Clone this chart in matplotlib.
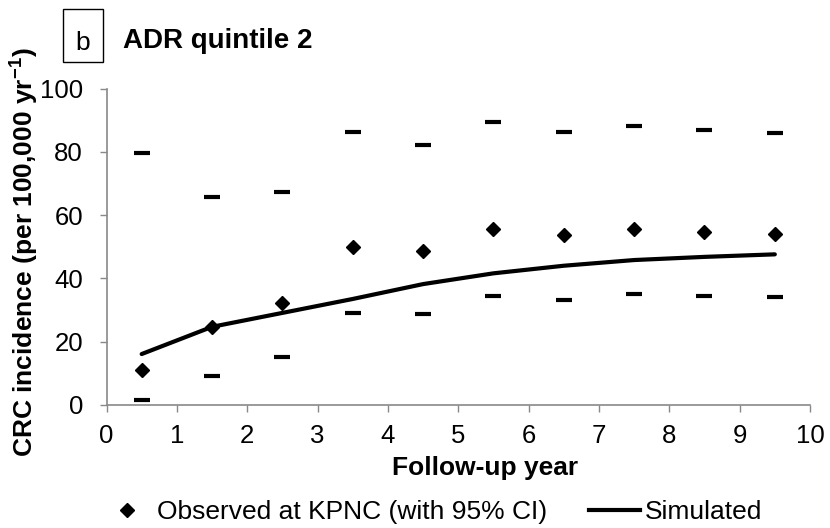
import matplotlib
matplotlib.use("Agg")
import matplotlib.pyplot as plt
from matplotlib.lines import Line2D
from matplotlib.patches import Rectangle

plt.rcParams['font.family'] = ['Liberation Sans', 'DejaVu Sans']
plt.rcParams['mathtext.fontset'] = 'custom'
plt.rcParams['mathtext.rm'] = 'Liberation Sans'
plt.rcParams['mathtext.bf'] = 'Liberation Sans:bold'

years = [0.5, 1.5, 2.5, 3.5, 4.5, 5.5, 6.5, 7.5, 8.5, 9.5]
observed = [11.0, 24.7, 32.1, 50.0, 48.5, 55.5, 53.7, 55.5, 54.7, 54.1]
upper_ci = [79.5, 65.8, 67.2, 86.1, 82.0, 89.4, 86.2, 88.0, 86.8, 86.0]
lower_ci = [1.6, 9.3, 15.3, 29.0, 28.8, 34.5, 33.3, 35.0, 34.4, 34.1]
simulated = [16.1, 24.7, 29.1, 33.5, 38.2, 41.6, 44.0, 45.8, 46.8, 47.6]
xticks = list(range(0, 11))
yticks = [0, 20, 40, 60, 80, 100]

W, H = 830, 528
fig = plt.figure(figsize=(W/100, H/100), dpi=100)
ax = fig.add_axes([106.5/W, 1-405/H, (810-106.5)/W, (405-88.5)/H])

gray = '#898989'
ax.plot(years, simulated, color='black', lw=3, solid_capstyle='round', zorder=2)
ax.plot(years, upper_ci, ls='none', marker='_', ms=11, mew=3.0, color='black', zorder=3)
ax.plot(years, lower_ci, ls='none', marker='_', ms=11, mew=3.0, color='black', zorder=3)
ax.plot(years, observed, ls='none', marker='D', ms=7, color='black', zorder=4)

ax.set_xlim(0, 10)
ax.set_ylim(0, 100)
ax.set_xticks(xticks)
ax.set_yticks(yticks)
ax.tick_params(axis='both', direction='out', length=5, width=1, color=gray,
               labelsize=18.5)
ax.tick_params(axis='y', pad=12)
ax.tick_params(axis='x', pad=9)
for s in ['top', 'right']:
    ax.spines[s].set_visible(False)
for s in ['left', 'bottom']:
    ax.spines[s].set_color(gray)
    ax.spines[s].set_linewidth(1.2)

ax.set_xlabel('Follow-up year', fontsize=19, fontweight='bold')
ax.xaxis.label.set_va('center')
ax.xaxis.set_label_coords((485-106.5)/703.5, (405-468)/316.5)
ax.set_ylabel(r'CRC incidence (per 100,000 yr$^{\mathbf{-1}}$)', fontsize=19,
              fontweight='bold')
ax.yaxis.label.set_va('center')
ax.yaxis.set_label_coords((24-106.5)/703.5, (405-252)/316.5)

fig.text(123/W, 1-48/H, 'ADR quintile 2', fontsize=20, fontweight='bold',
         va='baseline', ha='left')
fig.text(83/W, 1-50/H, 'b', fontsize=19, va='baseline', ha='center')
fig.patches.append(Rectangle((63/W, 1-62/H), 40/W, 53/H, transform=fig.transFigure,
                             fill=False, edgecolor='black', lw=1))

handles = [Line2D([], [], ls='none', marker='D', ms=7, color='black'),
           Line2D([], [], color='black', lw=3)]
fig.legend(handles, ['Observed at KPNC (with 95% CI)', 'Simulated'], ncol=2,
           loc='center left', bbox_to_anchor=(101/W, 1-512/H), frameon=False,
           fontsize=19, handlelength=1.97, handletextpad=0.17, columnspacing=1.55,
           borderpad=0, borderaxespad=0)

fig.savefig('out.png', dpi=100)
